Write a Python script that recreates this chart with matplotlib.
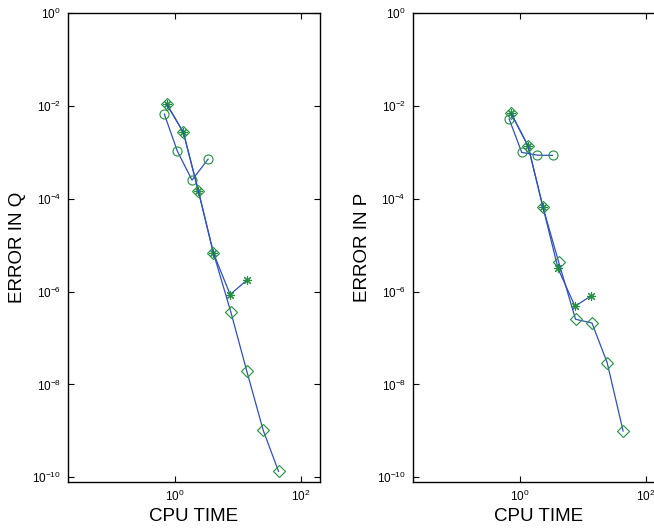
import numpy as np
import matplotlib
matplotlib.use("Agg")
import matplotlib.pyplot as plt

plt.rcParams['font.family'] = ['Liberation Sans', 'DejaVu Sans']

# left panel: error in Q vs cpu time
q_circ_t = [0.676, 1.088, 1.86, 3.35]
q_circ_e = [6.65e-3, 1.06e-3, 2.52e-4, 7.13e-4]

q_star_t = [0.738, 1.355, 2.35, 4.06, 7.49, 13.8]
q_star_e = [1.09e-2, 2.69e-3, 1.46e-4, 6.83e-6, 8.65e-7, 1.76e-6]

q_diam_t = [0.738, 1.355, 2.35, 4.06, 7.68, 13.8, 25.1, 43.9]
q_diam_e = [1.09e-2, 2.69e-3, 1.46e-4, 6.83e-6, 3.65e-7, 1.92e-8, 1.03e-9, 1.35e-10]

# right panel: error in P vs cpu time
p_circ_t = [0.680, 1.076, 1.885, 3.33]
p_circ_e = [5.2e-3, 9.95e-4, 8.7e-4, 8.57e-4]

p_star_t = [0.731, 1.358, 2.345, 4.05, 7.53, 13.5]
p_star_e = [6.89e-3, 1.36e-3, 6.49e-5, 3.15e-6, 4.84e-7, 8.07e-7]

p_diam_t = [0.731, 1.358, 2.345, 4.14, 7.69, 14.0, 24.4, 43.7]
p_diam_e = [6.89e-3, 1.36e-3, 6.49e-5, 4.37e-6, 2.54e-7, 2.11e-7, 2.96e-8, 9.95e-10]

line_col = '#3050bc'
mark_col = '#22903f'

fig = plt.figure(figsize=(6.54, 5.31), dpi=100)
W, H = 654, 531
ax1 = fig.add_axes([68/W, 49/H, 252/W, 469/H])
ax2 = fig.add_axes([412.7/W, 49/H, 252/W, 469/H])


def panel(ax, series, ylab):
    for t, e, mk, ms in series:
        ax.plot(t, e, '-', color=line_col, lw=0.9)
        ax.plot(t, e, linestyle='none', marker=mk, ms=ms, mfc='none',
                mec=mark_col, mew=0.8)
    ax.set_xscale('log')
    ax.set_yscale('log')
    ax.set_xlim(0.02, 200)
    ax.set_ylim(10**-10.1, 1)
    ax.set_xticks([1, 100])
    ax.set_yticks([1e-10, 1e-8, 1e-6, 1e-4, 1e-2, 1])
    ax.minorticks_off()
    ax.tick_params(direction='in', top=True, right=True, length=4,
                   width=0.8, labelsize=8.5, pad=5)
    for s in ax.spines.values():
        s.set_linewidth(1.0)
    ax.set_xlabel('CPU TIME', fontsize=13.5)
    ax.set_ylabel(ylab, fontsize=13.5)
    ax.xaxis.set_label_coords(0.5, -0.055)
    ax.yaxis.set_label_coords(-0.165, 0.5)


panel(ax1, [(q_circ_t, q_circ_e, 'o', 6.5),
            (q_star_t, q_star_e, (8, 2, 0), 6.5),
            (q_diam_t, q_diam_e, 'D', 6)], 'ERROR IN Q')
panel(ax2, [(p_circ_t, p_circ_e, 'o', 6.5),
            (p_star_t, p_star_e, (8, 2, 0), 6.5),
            (p_diam_t, p_diam_e, 'D', 6)], 'ERROR IN P')

fig.savefig('out.png', dpi=100)
